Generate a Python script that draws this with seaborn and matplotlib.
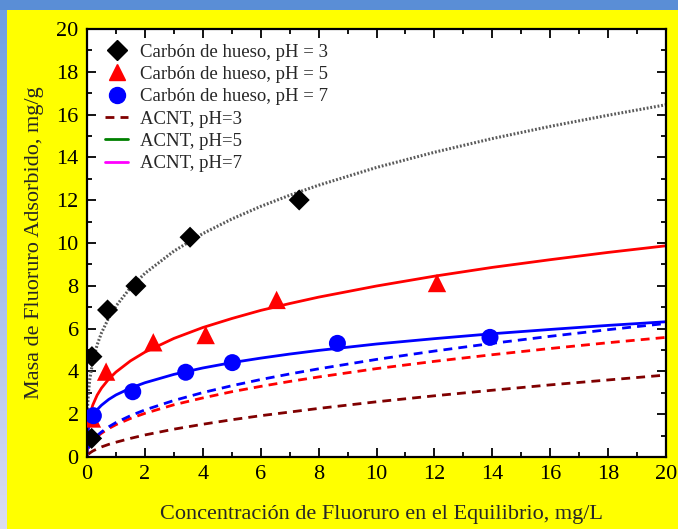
import numpy as np
import pandas as pd
import matplotlib
matplotlib.use("Agg")
import matplotlib.pyplot as plt
from matplotlib.lines import Line2D
from matplotlib.patches import Rectangle
from matplotlib.colors import LinearSegmentedColormap
import seaborn as sns

# ---------------- data ----------------
# experimental points
c_ph3 = [0.16, 0.17, 0.71, 1.69, 3.56, 7.33]
q_ph3 = [0.87, 4.69, 6.87, 7.99, 10.27, 12.01]
c_ph5 = [0.17, 0.66, 2.29, 4.10, 6.55, 12.09]
q_ph5 = [1.80, 3.99, 5.36, 5.70, 7.34, 8.13]
c_ph7 = [0.22, 1.58, 3.41, 5.02, 8.65, 13.92]
q_ph7 = [1.93, 3.05, 3.96, 4.41, 5.31, 5.59]

# curves
c_curve = [0.0, 0.02, 0.05, 0.1, 0.2, 0.35, 0.5, 0.75, 1, 1.5, 2, 3, 4, 5, 6, 7, 8, 10, 12, 14, 16, 18, 20]
q_fit3 = [0.0, 2.33, 3.02, 3.67, 4.47, 5.24, 5.80, 6.50, 7.05, 7.91, 8.58, 9.62, 10.44, 11.12, 11.71, 12.23, 12.70, 13.53, 14.24, 14.88, 15.45, 15.97, 16.46]
q_fit5 = [0.0, 1.21, 1.60, 1.97, 2.43, 2.89, 3.22, 3.64, 3.97, 4.49, 4.90, 5.54, 6.05, 6.47, 6.85, 7.17, 7.47, 7.99, 8.45, 8.86, 9.22, 9.56, 9.87]
q_fit7 = [0.0, 1.05, 1.33, 1.59, 1.91, 2.21, 2.42, 2.69, 2.90, 3.22, 3.47, 3.86, 4.16, 4.41, 4.62, 4.81, 4.98, 5.28, 5.53, 5.76, 5.96, 6.15, 6.32]

c_acnt = [0.05, 0.1, 0.2, 0.35, 0.5, 0.75, 1, 1.5, 2, 3, 4, 5, 6, 7, 8, 10, 12, 14, 16, 18, 20]
q_acnt3 = [0.13, 0.19, 0.28, 0.38, 0.47, 0.59, 0.69, 0.87, 1.03, 1.30, 1.53, 1.74, 1.93, 2.10, 2.27, 2.58, 2.86, 3.12, 3.37, 3.60, 3.83]
q_acnt5 = [0.41, 0.55, 0.74, 0.95, 1.11, 1.33, 1.51, 1.80, 2.04, 2.44, 2.76, 3.05, 3.30, 3.53, 3.74, 4.13, 4.47, 4.78, 5.07, 5.34, 5.59]
q_acnt7 = [0.41, 0.57, 0.78, 1.00, 1.17, 1.41, 1.61, 1.93, 2.20, 2.64, 3.01, 3.33, 3.62, 3.88, 4.12, 4.56, 4.95, 5.31, 5.64, 5.95, 6.24]

labels_pts = ["Carbón de hueso, pH = 3", "Carbón de hueso, pH = 5", "Carbón de hueso, pH = 7"]
labels_acnt = ["ACNT, pH=3", "ACNT, pH=5", "ACNT, pH=7"]
x_ticks = [0, 2, 4, 6, 8, 10, 12, 14, 16, 18, 20]
y_ticks = [0, 2, 4, 6, 8, 10, 12, 14, 16, 18, 20]
x_label = "Concentración de Fluoruro en el Equilibrio, mg/L"
y_label = "Masa de Fluoruro Adsorbido, mg/g"

# ---------------- style ----------------
sns.set_style("ticks")
plt.rcParams["font.family"] = ["Liberation Serif", "DejaVu Serif"]

YELLOW = "#FFFF00"
fig = plt.figure(figsize=(6.78, 5.29), dpi=100, facecolor=YELLOW)

# slide decorations: blue band at top, gradient strip at left
W, H = 678, 529
fig.patches.append(Rectangle((0, 1 - 10 / H), 1, 10 / H, transform=fig.transFigure,
                             facecolor="#5A8ED6", edgecolor="none", zorder=0))
gax = fig.add_axes([0, 0, 7 / W, 1 - 10 / H])
grad = np.linspace(0, 1, 256).reshape(-1, 1)
cmap = LinearSegmentedColormap.from_list("g", ["#6E9FE2", "#DCDDF2"])
gax.imshow(grad, aspect="auto", cmap=cmap, extent=[0, 1, 0, 1], origin="upper")
gax.set_axis_off()

ax = fig.add_axes([87 / W, 1 - 457 / H, (666 - 87) / W, (457 - 29) / H])
ax.set_facecolor("white")

# curves
sns.lineplot(x=c_curve, y=q_fit3, ax=ax, color="#5a5a5a", lw=2.2, linestyle=(0, (0.6, 0.6)),
             sort=False, estimator=None, zorder=2)
sns.lineplot(x=c_curve, y=q_fit5, ax=ax, color="#FF0000", lw=2, sort=False, estimator=None, zorder=2)
sns.lineplot(x=c_curve, y=q_fit7, ax=ax, color="#0000FF", lw=2, sort=False, estimator=None, zorder=2)
dash = (0, (3.2, 2.2))
sns.lineplot(x=c_acnt, y=q_acnt3, ax=ax, color="#800000", lw=2, linestyle=dash, sort=False, estimator=None, zorder=2)
sns.lineplot(x=c_acnt, y=q_acnt5, ax=ax, color="#FF0000", lw=2, linestyle=dash, sort=False, estimator=None, zorder=2)
sns.lineplot(x=c_acnt, y=q_acnt7, ax=ax, color="#0000FF", lw=2, linestyle=dash, sort=False, estimator=None, zorder=2)

# points
sns.scatterplot(x=c_ph3, y=q_ph3, ax=ax, marker="D", s=115, color="black", edgecolor="none", zorder=3)
sns.scatterplot(x=c_ph5, y=q_ph5, ax=ax, marker="^", s=175, color="#FF0000", edgecolor="none", zorder=3)
sns.scatterplot(x=c_ph7, y=q_ph7, ax=ax, marker="o", s=150, color="#0000FF", edgecolor="none", zorder=3)

ax.set_xlim(0, 20)
ax.set_ylim(0, 20)
ax.set_xticks(x_ticks)
ax.set_yticks(y_ticks)
ax.set_xticks(np.arange(1, 20, 2), minor=True)
ax.set_yticks(np.arange(1, 20, 2), minor=True)
ax.tick_params(which="both", direction="in", top=True, right=True, width=1.3, colors="black")
ax.tick_params(which="major", length=6.5, labelsize=16, pad=6)
ax.tick_params(which="minor", length=3.5)
for sp in ax.spines.values():
    sp.set_visible(True)
    sp.set_linewidth(1.6)
    sp.set_color("black")

ax.set_xlabel(x_label, fontsize=16)
ax.xaxis.set_label_coords(0.508, -0.112)
ax.xaxis.label.set_va("top")
ax.set_ylabel(y_label, fontsize=16, labelpad=9)

handles = [
    Line2D([], [], marker="D", color="black", ls="none", markersize=10),
    Line2D([], [], marker="^", color="#FF0000", ls="none", markersize=12),
    Line2D([], [], marker="o", color="#0000FF", ls="none", markersize=11.5),
    Line2D([], [], color="#800000", lw=2, ls=(0, (3.2, 2.2))),
    Line2D([], [], color="#008000", lw=2),
    Line2D([], [], color="#FF00FF", lw=2),
]
leg = ax.legend(handles, labels_pts + labels_acnt, loc="upper left", frameon=False,
                fontsize=13.5, handlelength=1.2, handletextpad=0.65, labelspacing=0.28,
                borderaxespad=0.3, bbox_to_anchor=(0.009, 0.997))

fig.savefig("out.png", dpi=100, facecolor=YELLOW)
